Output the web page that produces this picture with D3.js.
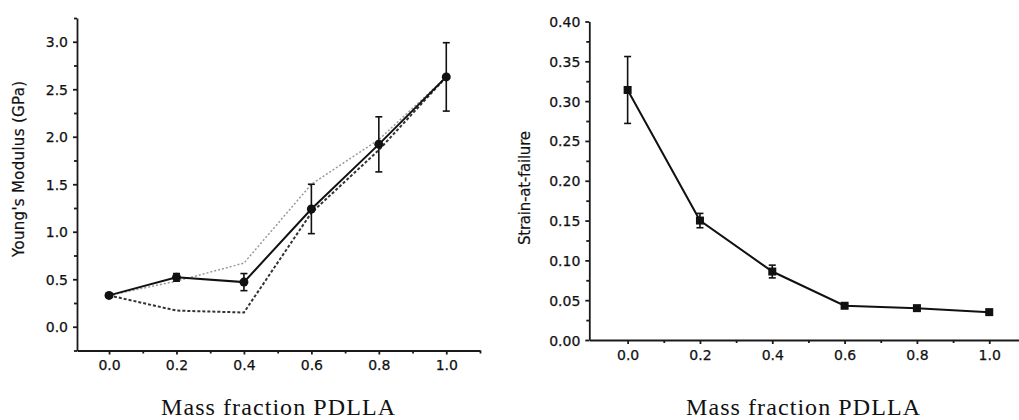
<!DOCTYPE html>
<html>
	<head>
		<meta charset="utf-8">
		<title>Modulus and strain vs PDLLA</title>
		<style>
			body { margin: 0; background: #fff; }
			.axis path, .axis line { stroke: #1a1a1a; stroke-width: 1.8px; }
			.axis text { font-family: "DejaVu Sans", sans-serif; font-size: 14px; fill: #111; stroke: #111; stroke-width: 0.25px; }
			.ytitle { font-family: "DejaVu Sans", sans-serif; font-size: 15px; fill: #111; stroke: #111; stroke-width: 0.2px; }
			.xtitle { font-family: "Liberation Serif", "Times New Roman", serif; font-size: 24px; fill: #111; }
			.mean { fill: none; stroke: #111; stroke-width: 2px; }
			.upper { fill: none; stroke: #9a9a9a; stroke-width: 1.5px; stroke-dasharray: 2,2; }
			.lower { fill: none; stroke: #333; stroke-width: 2px; stroke-dasharray: 3,2; }
			.err { stroke: #111; stroke-width: 1.6px; }
		</style>
	</head>
	<body>
		<svg class="chart"></svg>
		<script src="https://d3js.org/d3.v7.min.js"></script>
		<script>
			// data
			var massFraction = [0, 0.2, 0.4, 0.6, 0.8, 1.0];
			var modulusMean  = [0.33, 0.52, 0.47, 1.24, 1.92, 2.63];
			var modulusErr   = [0.02, 0.04, 0.09, 0.26, 0.29, 0.36];
			var modulusUpper = [0.33, 0.48, 0.67, 1.50, 1.97, 2.63];
			var modulusLower = [0.33, 0.17, 0.15, 1.20, 1.86, 2.63];
			var strainMean   = [0.314, 0.150, 0.086, 0.043, 0.040, 0.035];
			var strainErr    = [0.042, 0.009, 0.008, 0.002, 0.002, 0.002];

			var xTicks       = [0, 0.2, 0.4, 0.6, 0.8, 1.0];
			var xMinor       = [0.1, 0.3, 0.5, 0.7, 0.9, 1.1];
			var modulusTicks = [0, 0.5, 1.0, 1.5, 2.0, 2.5, 3.0];
			var modulusMinor = [-0.25, 0.25, 0.75, 1.25, 1.75, 2.25, 2.75, 3.25];
			var strainTicks  = [0, 0.05, 0.10, 0.15, 0.20, 0.25, 0.30, 0.35, 0.40];
			var strainMinor  = [0.025, 0.075, 0.125, 0.175, 0.225, 0.275, 0.325, 0.375];

			var svg = d3.select(".chart")
				.attr("width", 1019)
				.attr("height", 420);

			svg.append("rect").attr("width", 1019).attr("height", 420).attr("fill", "#fff");

			function panel(opt) {
				var x = d3.scaleLinear().domain(opt.xDomain).range(opt.xRange);
				var y = d3.scaleLinear().domain(opt.yDomain).range(opt.yRange);
				var g = svg.append("g");
				var y0 = opt.yRange[0];

				// minor ticks first, then the major axes on top
				g.append("g").attr("class", "axis")
					.attr("transform", "translate(0," + y0 + ")")
					.call(d3.axisBottom(x).tickValues(xMinor).tickSize(3).tickFormat(""))
					.select(".domain").remove();
				g.append("g").attr("class", "axis")
					.attr("transform", "translate(" + opt.xRange[0] + ",0)")
					.call(d3.axisLeft(y).tickValues(opt.yMinor).tickSize(3).tickFormat(""))
					.select(".domain").remove();

				g.append("g").attr("class", "axis")
					.attr("transform", "translate(0," + y0 + ")")
					.call(d3.axisBottom(x).tickValues(xTicks).tickSizeInner(4).tickSizeOuter(0)
						.tickPadding(6).tickFormat(d3.format(".1f")));
				g.append("g").attr("class", "axis")
					.attr("transform", "translate(" + opt.xRange[0] + ",0)")
					.call(d3.axisLeft(y).tickValues(opt.yTicks).tickSizeInner(4).tickSizeOuter(0)
						.tickPadding(5).tickFormat(d3.format(opt.yFormat)))
					.selectAll("text").attr("dy", "0.36em");

				g.append("text").attr("class", "ytitle")
					.attr("transform", "translate(" + opt.yTitlePos[0] + "," + opt.yTitlePos[1] + ") rotate(-90)")
					.attr("text-anchor", "middle")
					.attr("dy", "0.35em")
					.attr("textLength", opt.yTitleLen)
					.text(opt.yTitle);

				g.append("text").attr("class", "xtitle")
					.attr("x", opt.xTitleX).attr("y", 415)
					.attr("text-anchor", "middle")
					.attr("textLength", 234)
					.text("Mass fraction PDLLA");

				return {g: g, x: x, y: y};
			}

			// ---------- left: Young's modulus ----------
			var L = panel({
				xDomain: [-0.095, 1.1], xRange: [77, 480],
				yDomain: [-0.25, 3.25], yRange: [350.5, 18],
				yTicks: modulusTicks, yMinor: modulusMinor, yFormat: ".1f",
				yTitle: "Young's Modulus (GPa)", yTitlePos: [19, 169], yTitleLen: 176,
				xTitleX: 278
			});

			var lineL = function(vals) {
				return d3.line()
					.x(function(d, i) { return L.x(massFraction[i]); })
					.y(function(d) { return L.y(d); })(vals);
			};
			L.g.append("path").attr("class", "upper").attr("d", lineL(modulusUpper));
			L.g.append("path").attr("class", "lower").attr("d", lineL(modulusLower));
			L.g.append("path").attr("class", "mean").attr("d", lineL(modulusMean));

			var errL = L.g.append("g").selectAll("g")
				.data(modulusMean).enter().append("g");
			errL.append("line").attr("class", "err")
				.attr("x1", function(d, i) { return L.x(massFraction[i]); })
				.attr("x2", function(d, i) { return L.x(massFraction[i]); })
				.attr("y1", function(d, i) { return L.y(d + modulusErr[i]); })
				.attr("y2", function(d, i) { return L.y(d - modulusErr[i]); });
			[1, -1].forEach(function(s) {
				errL.append("line").attr("class", "err")
					.attr("x1", function(d, i) { return L.x(massFraction[i]) - 3.5; })
					.attr("x2", function(d, i) { return L.x(massFraction[i]) + 3.5; })
					.attr("y1", function(d, i) { return L.y(d + s * modulusErr[i]); })
					.attr("y2", function(d, i) { return L.y(d + s * modulusErr[i]); });
			});
			L.g.append("g").selectAll("circle")
				.data(modulusMean).enter().append("circle")
				.attr("cx", function(d, i) { return L.x(massFraction[i]); })
				.attr("cy", function(d) { return L.y(d); })
				.attr("r", 4.5)
				.attr("fill", "#111");

			// ---------- right: strain-at-failure ----------
			var R = panel({
				xDomain: [-0.106, 1.1], xRange: [589.3, 1025.4],
				yDomain: [0, 0.40], yRange: [340, 21.5],
				yTicks: strainTicks, yMinor: strainMinor, yFormat: ".2f",
				yTitle: "Strain-at-failure", yTitlePos: [525, 188], yTitleLen: 114,
				xTitleX: 803
			});

			R.g.append("path").attr("class", "mean")
				.attr("d", d3.line()
					.x(function(d, i) { return R.x(massFraction[i]); })
					.y(function(d) { return R.y(d); })(strainMean));

			var errR = R.g.append("g").selectAll("g")
				.data(strainMean).enter().append("g");
			errR.append("line").attr("class", "err")
				.attr("x1", function(d, i) { return R.x(massFraction[i]); })
				.attr("x2", function(d, i) { return R.x(massFraction[i]); })
				.attr("y1", function(d, i) { return R.y(d + strainErr[i]); })
				.attr("y2", function(d, i) { return R.y(d - strainErr[i]); });
			[1, -1].forEach(function(s) {
				errR.append("line").attr("class", "err")
					.attr("x1", function(d, i) { return R.x(massFraction[i]) - 3.5; })
					.attr("x2", function(d, i) { return R.x(massFraction[i]) + 3.5; })
					.attr("y1", function(d, i) { return R.y(d + s * strainErr[i]); })
					.attr("y2", function(d, i) { return R.y(d + s * strainErr[i]); });
			});
			R.g.append("g").selectAll("rect")
				.data(strainMean).enter().append("rect")
				.attr("x", function(d, i) { return R.x(massFraction[i]) - 4; })
				.attr("y", function(d) { return R.y(d) - 4; })
				.attr("width", 8).attr("height", 8)
				.attr("fill", "#111");
		</script>
	</body>
</html>
